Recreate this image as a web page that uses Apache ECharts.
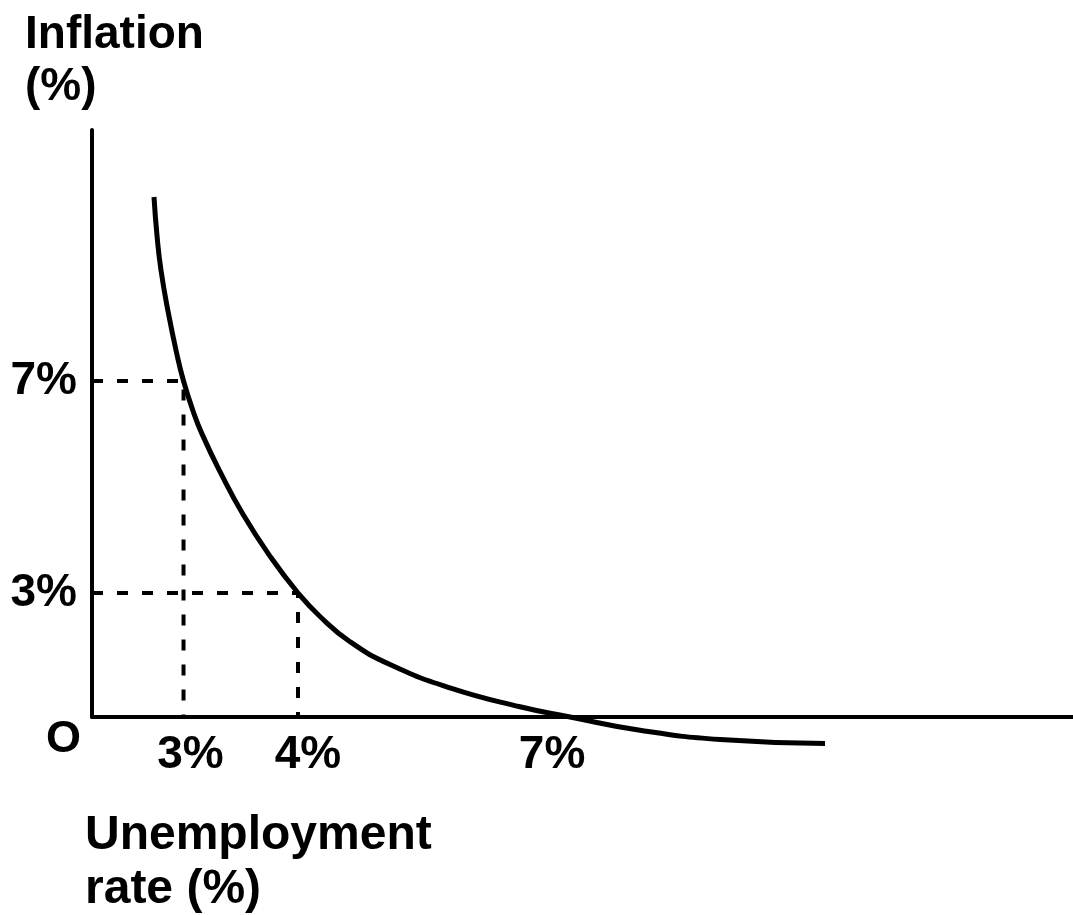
<!DOCTYPE html>
<html>
<head>
<meta charset="utf-8">
<script src="https://cdn.jsdelivr.net/npm/echarts@6/dist/echarts.min.js"></script>
<style>
html,body{margin:0;padding:0;background:#fff;}
#chart{width:1073px;height:915px;}
</style>
</head>
<body>
<div id="chart"></div>
<script>
// Schematic Phillips curve (diagram units: both axes run 0..100)
const curveX = [6.32, 6.63, 7.03, 7.75, 8.66, 9.33, 10.30, 11.21, 13.05, 15.39, 18.14, 21.00, 23.24, 26.30, 30.38, 36.49, 43.63, 48.73, 55.86, 64.02, 74.72];
const curveY = [88.59, 81.94, 76.15, 69.11, 61.75, 57.24, 52.13, 48.23, 41.79, 34.53, 27.41, 21.12, 17.12, 12.83, 8.94, 4.96, 1.74, 0, -2.27, -3.83, -4.51];

const xTickPos = [9.33, 21.0, 48.73];
const xTickLabels = ['3%', '4%', '7%'];
const yTickPos = [21.12, 57.24];
const yTickLabels = ['3%', '7%'];

// guide pairs: [index into xTickPos, index into yTickPos]
const guidePairs = [[0, 1], [1, 0]];

const yTitle = 'Inflation\n(%)';
const xTitle = 'Unemployment\nrate (%)';
const originLabel = 'O';

const FONT = '"Liberation Sans", Arial, Helvetica, sans-serif';

const chart = echarts.init(document.getElementById('chart'));

const guideSeries = guidePairs.map(([xi, yi]) => ({
  type: 'line',
  data: [[0, yTickPos[yi]], [xTickPos[xi], yTickPos[yi]], [xTickPos[xi], 0]],
  symbol: 'none',
  silent: true,
  z: 2,
  lineStyle: { color: '#000', width: 4, type: [11, 14] },
  animation: false
}));

function indexOf(vals, v) {
  for (let i = 0; i < vals.length; i++) {
    if (Math.abs(vals[i] - v) < 1e-6) return i;
  }
  return -1;
}

const xLabelFont = { fontFamily: FONT, fontWeight: 'bold', fontSize: 46, color: '#000' };

chart.setOption({
  backgroundColor: '#ffffff',
  animation: false,
  grid: { left: 92, right: 0, top: 130, bottom: 198 },
  title: [
    {
      text: yTitle, left: 20, top: 4,
      textStyle: { fontFamily: FONT, fontWeight: 'bold', fontSize: 46, lineHeight: 52, color: '#000' }
    },
    {
      text: xTitle, left: 80, top: 804,
      textStyle: { fontFamily: FONT, fontWeight: 'bold', fontSize: 48, lineHeight: 54, color: '#000' }
    }
  ],
  graphic: [
    {
      type: 'text', left: 46, top: 717,
      style: { text: originLabel, font: 'bold 45px ' + FONT, fill: '#000' }
    }
  ],
  xAxis: {
    type: 'value', min: 0, max: 100,
    splitLine: { show: false },
    axisTick: { show: false },
    axisLine: { show: true, onZero: false, lineStyle: { color: '#000', width: 4 } },
    axisLabel: {
      customValues: xTickPos,
      formatter: v => {
        const i = indexOf(xTickPos, v);
        return i < 0 ? '' : '{l' + i + '|' + xTickLabels[i] + '}';
      },
      rich: {
        l0: Object.assign({ padding: [0, 0, 0, 14] }, xLabelFont),
        l1: Object.assign({ padding: [0, 0, 0, 20] }, xLabelFont),
        l2: Object.assign({ padding: [0, 36, 0, 0] }, xLabelFont)
      },
      fontFamily: FONT, fontWeight: 'bold', fontSize: 46, color: '#000', margin: 15
    }
  },
  yAxis: {
    type: 'value', min: 0, max: 100,
    splitLine: { show: false },
    axisTick: { show: false },
    axisLine: { show: true, lineStyle: { color: '#000', width: 4 } },
    axisLabel: {
      customValues: yTickPos,
      formatter: v => { const i = indexOf(yTickPos, v); return i < 0 ? '' : yTickLabels[i]; },
      fontFamily: FONT, fontWeight: 'bold', fontSize: 46, color: '#000', margin: 15
    }
  },
  series: [
    ...guideSeries,
    {
      type: 'line',
      data: curveX.map((x, i) => [x, curveY[i]]),
      symbol: 'none',
      smooth: 0.5,
      clip: false,
      z: 3,
      lineStyle: { color: '#000', width: 5 }
    }
  ]
});
</script>
</body>
</html>
